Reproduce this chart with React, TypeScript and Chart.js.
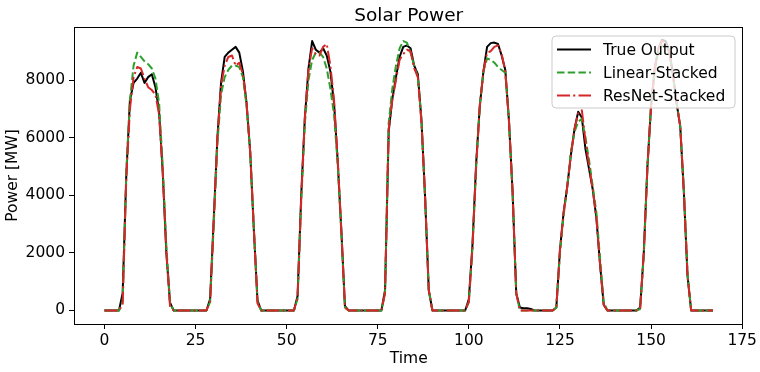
import React, { useEffect, useRef } from "react";
import { Chart, registerables } from "chart.js";

Chart.register(...registerables);

const TITLE = "Solar Power";
const X_LABEL = "Time";
const Y_LABEL = "Power [MW]";
const SERIES_NAMES = ["True Output", "Linear-Stacked", "ResNet-Stacked"];
const SERIES_COLORS = ["#000000", "#2ca02c", "#d62728"];
const X_TICKS = [0, 25, 50, 75, 100, 125, 150, 175];
const Y_TICKS = [0, 2000, 4000, 6000, 8000];

// hourly values, one row per day
const TRUE_OUTPUT = [
  0, 0, 0, 0, 0, 600, 4700, 7300, 7900, 8050, 8250, 7900, 8100, 8200, 7750, 6900, 4800, 2000, 270, 0, 0, 0, 0, 0,
  0, 0, 0, 0, 0, 400, 3200, 6000, 7900, 8800, 8950, 9050, 9150, 8950, 8300, 7200, 5500, 2800, 350, 0, 0, 0, 0, 0,
  0, 0, 0, 0, 0, 500, 4000, 6700, 8400, 9350, 9050, 8950, 9100, 8850, 8300, 7200, 5200, 2800, 150, 0, 0, 0, 0, 0,
  0, 0, 0, 0, 0, 700, 6200, 7350, 8100, 8800, 9150, 9200, 9100, 8500, 8200, 6600, 3900, 700, 0, 0, 0, 0, 0, 0,
  0, 0, 0, 0, 400, 2300, 5100, 7100, 8300, 9150, 9280, 9300, 9250, 8850, 8350, 6600, 4100, 600, 100, 80, 80, 50, 0, 0,
  0, 0, 0, 0, 100, 2100, 3400, 4300, 5400, 6300, 6900, 6700, 5600, 4900, 4200, 3200, 1600, 200, 0, 0, 0, 0, 0, 0,
  0, 0, 0, 100, 2000, 5000, 7100, 8400, 9100, 9400, 9350, 9000, 8200, 7200, 6400, 4100, 1200, 0, 0, 0, 0, 0, 0, 0,
];

const LINEAR_STACKED = [
  0, 0, 0, 0, 0, 300, 4800, 7300, 8500, 8950, 8800, 8650, 8550, 8400, 8050, 7200, 5000, 2200, 250, 0, 0, 0, 0, 0,
  0, 0, 0, 0, 0, 300, 3000, 5800, 7500, 8100, 8350, 8500, 8500, 8450, 8100, 7100, 5500, 2900, 300, 0, 0, 0, 0, 0,
  0, 0, 0, 0, 0, 400, 3800, 6500, 8000, 8700, 8950, 8950, 8800, 8400, 7700, 6800, 5100, 2700, 100, 0, 0, 0, 0, 0,
  0, 0, 0, 0, 0, 600, 6500, 7700, 8500, 9100, 9350, 9300, 8950, 8500, 8100, 6600, 3900, 700, 0, 0, 0, 0, 0, 0,
  0, 0, 0, 0, 300, 2200, 5000, 7100, 8300, 8750, 8700, 8600, 8450, 8350, 8250, 6600, 4100, 600, 0, 0, 0, 0, 0, 0,
  0, 0, 0, 0, 100, 2000, 3300, 4300, 5500, 6200, 6550, 6650, 6000, 5200, 4300, 3400, 1800, 300, 0, 0, 0, 0, 0, 0,
  0, 0, 0, 50, 1900, 5000, 7100, 8300, 9000, 9200, 9200, 8950, 8200, 7200, 6400, 4200, 1300, 0, 0, 0, 0, 0, 0, 0,
];

const RESNET_STACKED = [
  0, 0, 0, 0, 0, 200, 4600, 7000, 8100, 8450, 8400, 8050, 7750, 7650, 7500, 6800, 4800, 2000, 150, 0, 0, 0, 0, 0,
  0, 0, 0, 0, 0, 300, 3100, 6000, 7800, 8500, 8800, 8850, 8500, 8600, 8200, 7200, 5500, 2800, 250, 0, 0, 0, 0, 0,
  0, 0, 0, 0, 0, 450, 3900, 6700, 8400, 9100, 8900, 8850, 9150, 9250, 8500, 7300, 5300, 2800, 100, 0, 0, 0, 0, 0,
  0, 0, 0, 0, 0, 600, 6300, 7300, 8000, 8700, 8900, 9050, 9000, 8400, 8100, 6500, 3900, 700, 0, 0, 0, 0, 0, 0,
  0, 0, 0, 0, 300, 2200, 5000, 7100, 8300, 8950, 9000, 9150, 9200, 8900, 8300, 6600, 4100, 600, 0, 0, 0, 0, 0, 0,
  0, 0, 0, 0, 100, 2100, 3400, 4300, 5400, 6300, 6850, 6950, 5900, 5000, 4200, 3200, 1600, 200, 0, 0, 0, 0, 0, 0,
  0, 0, 0, 80, 2000, 5000, 7100, 8400, 9100, 9350, 9300, 9000, 8200, 7200, 6400, 4100, 1200, 0, 0, 0, 0, 0, 0, 0,
];

const FONT = "'DejaVu Sans', sans-serif";
const DASHES = [[], [7.5, 3.2], [13, 3.2, 2.1, 3.2]];

const toPoints = (arr: number[]) => arr.map((y, i) => ({ x: i, y }));

const decorations = {
  id: "decorations",
  afterDatasetsDraw(chart: any) {
    const { ctx, chartArea: a } = chart;
    ctx.save();
    // frame
    ctx.strokeStyle = "#000";
    ctx.lineWidth = 1;
    ctx.setLineDash([]);
    ctx.strokeRect(Math.round(a.left) + 0.5, Math.round(a.top) + 0.5, Math.round(a.right - a.left) - 1, Math.round(a.bottom - a.top));
    // title
    ctx.fillStyle = "#000";
    ctx.textAlign = "center";
    ctx.textBaseline = "alphabetic";
    ctx.font = `18.5px ${FONT}`;
    const cx = (a.left + a.right) / 2;
    ctx.fillText(TITLE, cx, 21);
    ctx.font = `15.5px ${FONT}`;
    ctx.fillText(X_LABEL, cx, 363);
    ctx.save();
    ctx.translate(13, (a.top + a.bottom) / 2);
    ctx.rotate(-Math.PI / 2);
    ctx.textBaseline = "middle";
    ctx.fillText(Y_LABEL, 0, 0);
    ctx.restore();
    // legend
    const lx = 552, ly = 36, lw = 183, lh = 72, r = 4;
    ctx.beginPath();
    ctx.moveTo(lx + r, ly);
    ctx.lineTo(lx + lw - r, ly);
    ctx.quadraticCurveTo(lx + lw, ly, lx + lw, ly + r);
    ctx.lineTo(lx + lw, ly + lh - r);
    ctx.quadraticCurveTo(lx + lw, ly + lh, lx + lw - r, ly + lh);
    ctx.lineTo(lx + r, ly + lh);
    ctx.quadraticCurveTo(lx, ly + lh, lx, ly + lh - r);
    ctx.lineTo(lx, ly + r);
    ctx.quadraticCurveTo(lx, ly, lx + r, ly);
    ctx.closePath();
    ctx.fillStyle = "rgba(255,255,255,0.8)";
    ctx.fill();
    ctx.strokeStyle = "#cccccc";
    ctx.lineWidth = 1;
    ctx.stroke();
    SERIES_NAMES.forEach((name, i) => {
      const y = 49.5 + i * 23;
      ctx.beginPath();
      ctx.setLineDash(DASHES[i]);
      ctx.strokeStyle = SERIES_COLORS[i];
      ctx.lineWidth = 2;
      ctx.lineCap = "butt";
      ctx.moveTo(557, y);
      ctx.lineTo(591, y);
      ctx.stroke();
      ctx.setLineDash([]);
      ctx.fillStyle = "#000";
      ctx.textAlign = "left";
      ctx.textBaseline = "middle";
      ctx.font = `15.5px ${FONT}`;
      ctx.fillText(name, 603, y + 1);
    });
    ctx.restore();
  },
};

export default function App() {
  const ref = useRef<HTMLCanvasElement | null>(null);
  useEffect(() => {
    if (!ref.current) return;
    const series = [TRUE_OUTPUT, LINEAR_STACKED, RESNET_STACKED];
    const chart = new Chart(ref.current, {
      type: "line",
      data: {
        datasets: series.map((s, i) => ({
          label: SERIES_NAMES[i],
          data: toPoints(s),
          borderColor: SERIES_COLORS[i],
          backgroundColor: SERIES_COLORS[i],
          borderWidth: 2,
          borderDash: DASHES[i],
          borderJoinStyle: "round",
          borderCapStyle: "butt",
          pointRadius: 0,
          tension: 0,
          fill: false,
          order: 3 - i,
        })),
      },
      options: {
        animation: false,
        responsive: false,
        devicePixelRatio: 1,
        layout: { padding: { top: 27, right: 14, left: 0, bottom: 0 } },
        plugins: { legend: { display: false }, tooltip: { enabled: false }, title: { display: false } },
        scales: {
          x: {
            type: "linear",
            min: -8.35,
            max: 175.35,
            afterBuildTicks: (scale: any) => {
              scale.ticks = X_TICKS.map((v) => ({ value: v }));
            },
            afterFit: (scale: any) => {
              scale.height = 48;
            },
            border: { display: false },
            grid: { display: true, drawOnChartArea: false, drawTicks: true, tickLength: 5, color: "#000", lineWidth: 1 },
            ticks: { color: "#000", font: { family: FONT, size: 15.5 }, padding: 3, maxRotation: 0, autoSkip: false, callback: (v: any) => String(v) },
          },
          y: {
            type: "linear",
            min: -470,
            max: 9840,
            afterBuildTicks: (scale: any) => {
              scale.ticks = Y_TICKS.map((v) => ({ value: v }));
            },
            afterFit: (scale: any) => {
              scale.width = 74;
            },
            border: { display: false },
            grid: { display: true, drawOnChartArea: false, drawTicks: true, tickLength: 5, color: "#000", lineWidth: 1 },
            ticks: { color: "#000", font: { family: FONT, size: 15.5 }, padding: 4, autoSkip: false, callback: (v: any) => String(v) },
          },
        },
      },
      plugins: [decorations],
    } as any);
    return () => chart.destroy();
  }, []);
  return (
    <div style={{ position: "absolute", left: 0, top: 0, width: 760, height: 372, background: "#fff" }}>
      <canvas ref={ref} width={760} height={372} style={{ display: "block" }} />
    </div>
  );
}
